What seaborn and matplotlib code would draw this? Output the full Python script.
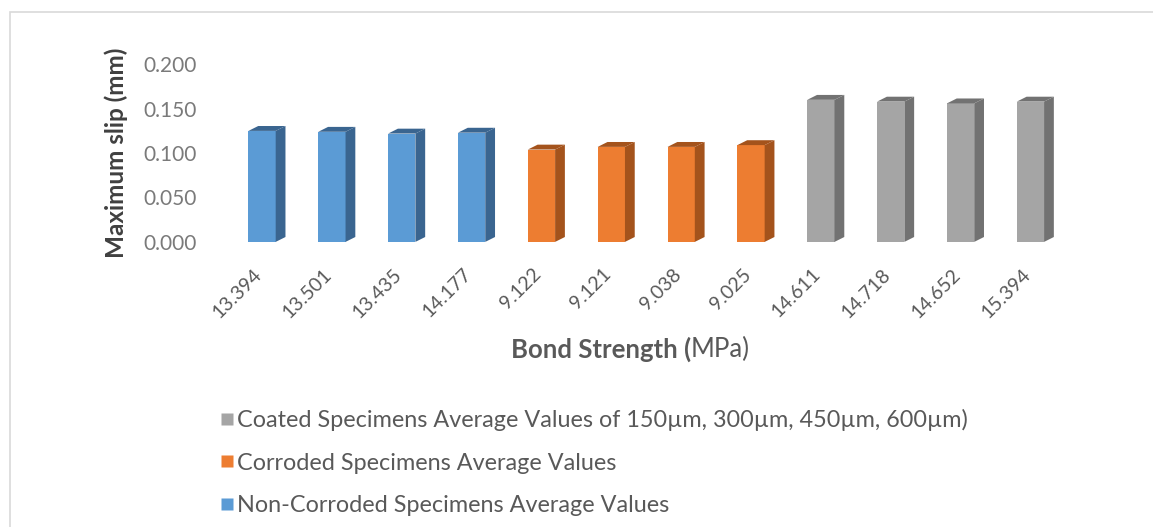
import pandas as pd
import matplotlib.pyplot as plt
import seaborn as sns
from matplotlib.patches import Polygon, Rectangle
from matplotlib.lines import Line2D
from matplotlib.ticker import FormatStrFormatter
import matplotlib.transforms as mtransforms

# Data
bond_strength = ["13.394", "13.501", "13.435", "14.177",
                 "9.122", "9.121", "9.038", "9.025",
                 "14.611", "14.718", "14.652", "15.394"]
max_slip = [0.125, 0.124, 0.122, 0.123,
            0.104, 0.107, 0.107, 0.109,
            0.160, 0.158, 0.156, 0.158]
groups = ["Non-Corroded Specimens Average Values"] * 4 + \
         ["Corroded Specimens Average Values"] * 4 + \
         ["Coated Specimens Average Values of 150µm, 300µm, 450µm, 600µm)"] * 4
legend_order = ["Coated Specimens Average Values of 150µm, 300µm, 450µm, 600µm)",
                "Corroded Specimens Average Values",
                "Non-Corroded Specimens Average Values"]

front_colors = {"Non-Corroded Specimens Average Values": "#5b9bd5",
                "Corroded Specimens Average Values": "#ed7d31",
                "Coated Specimens Average Values of 150µm, 300µm, 450µm, 600µm)": "#a5a5a5"}
side_colors = {"Non-Corroded Specimens Average Values": "#3a6590",
               "Corroded Specimens Average Values": "#a4531c",
               "Coated Specimens Average Values of 150µm, 300µm, 450µm, 600µm)": "#727272"}

df = pd.DataFrame({"bond": bond_strength, "slip": max_slip, "group": groups})

sns.set_theme(style="white")
plt.rcParams['font.family'] = ['Lato', 'DejaVu Sans']
text_color = "#595959"

fig = plt.figure(figsize=(11.53, 5.27), dpi=100)
ax = fig.add_axes([0.197, 0.541, 0.727, 0.337])

sns.barplot(data=df, x="bond", y="slip", hue="group", palette=front_colors,
            dodge=False, width=0.39, saturation=1, legend=False, ax=ax,
            linewidth=0, edgecolor="none")

# fake 3D depth: side and top faces from each bar's geometry
dx, dy = 0.14, 0.0055
for patch, grp in zip(list(ax.patches), groups):
    x0 = patch.get_x()
    x1 = x0 + patch.get_width()
    h = patch.get_height()
    side = Polygon([(x1, 0), (x1 + dx, dy), (x1 + dx, h + dy), (x1, h)],
                   closed=True, facecolor=side_colors[grp], edgecolor="none")
    top = Polygon([(x0, h), (x0 + dx, h + dy), (x1 + dx, h + dy), (x1, h)],
                  closed=True, facecolor=side_colors[grp], edgecolor="none")
    ax.add_patch(side)
    ax.add_patch(top)

ax.set_ylim(0, 0.2)
ax.set_yticks([0, 0.05, 0.1, 0.15, 0.2])
ax.yaxis.set_major_formatter(FormatStrFormatter('%.3f'))
ax.set_xlim(-0.5, 11.5)
sns.despine(ax=ax, left=True, bottom=True)
ax.tick_params(axis='y', labelsize=15, colors="#7a7a7a", length=0, pad=22)
ax.tick_params(axis='x', labelsize=14, colors=text_color, length=0, pad=17)
shift = mtransforms.ScaledTranslation(-9 / 100, 0, fig.dpi_scale_trans)
for lbl in ax.get_xticklabels():
    lbl.set_rotation(45)
    lbl.set_ha('right')
    lbl.set_rotation_mode('anchor')
    lbl.set_transform(lbl.get_transform() + shift)
ax.set_xlabel("")
ax.set_ylabel("Maximum slip (mm)", fontsize=17.5, fontweight='bold', color="#404040")
ax.yaxis.set_label_coords(-0.118, 0.5)

# x-axis title: bold part + regular part
fig.text(691 / 1153, 1 - 349 / 527, "Bond Strength (", fontsize=18.5, fontweight='bold',
         color=text_color, ha='right', va='center')
fig.text(691 / 1153, 1 - 349 / 527, "MPa)", fontsize=18.5, color=text_color,
         ha='left', va='center')

# legend
handles = [Line2D([0], [0], marker='s', linestyle='none', markersize=9,
                  markerfacecolor=front_colors[g], markeredgecolor='none') for g in legend_order]
fig.legend(handles, legend_order, loc='upper left', bbox_to_anchor=(197 / 1153, 1 - 388 / 527),
           frameon=False, fontsize=16.8, labelspacing=0.92, handletextpad=0.0,
           labelcolor=text_color, handlelength=0.8)

# chart frame
fig.patches.append(Rectangle((10 / 1153, -0.1), 1.2, 1 - 12 / 527 + 0.1,
                             transform=fig.transFigure, fill=False,
                             edgecolor="#d9d9d9", linewidth=1.2))

fig.savefig("out.png", dpi=100)
